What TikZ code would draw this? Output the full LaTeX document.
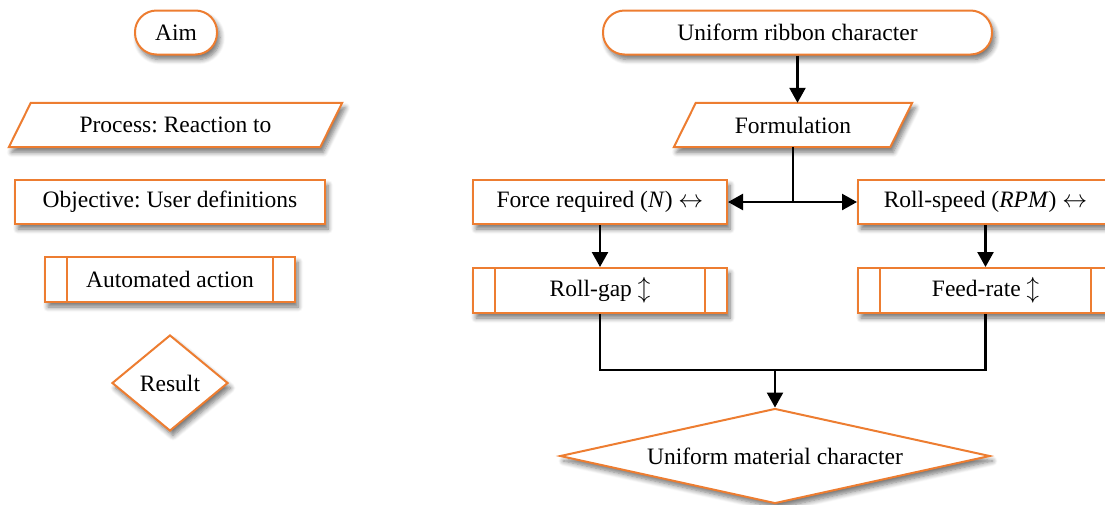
\documentclass[tikz,border=0pt]{standalone}
\usepackage{fontspec}
\setmainfont{Liberation Serif}
\usetikzlibrary{shapes.geometric,arrows.meta,shadows.blur,backgrounds,calc}
\definecolor{og}{HTML}{ED7D31}
\frenchspacing
\begin{document}
\begin{tikzpicture}[x=1pt,y=-1pt,
  font=\fontsize{23.5}{28}\selectfont,
  sh/.style={blur shadow={shadow xshift=3pt,shadow yshift=-5pt,shadow blur steps=7,shadow blur radius=5pt,shadow opacity=55}},
  ol/.style={draw=og,line width=2pt},
  box/.style={ol,fill=white,sh,inner sep=0pt,minimum height=44pt},
  term/.style={box,rounded corners=21.5pt},
  txt/.style={inner sep=0pt,minimum height=44pt},
  dia/.style={diamond,ol,fill=white,sh,inner sep=0pt},
  line/.style={line width=2.4pt,black},
  arr/.style={line,-{Triangle[length=15pt,width=16pt]}}
]
\path[use as bounding box] (0,0) rectangle (1105,504);

% ---- legend ----
\node[term,minimum width=82pt] (aim) at (176,32.5) {Aim};
\node[txt,minimum width=311pt] (proc) at (175.5,125) {Process: Reaction to};
\node[box,minimum width=310pt] (obj) at (170,202) {Objective: User definitions};
\node[box,minimum width=250pt,minimum height=45pt] (auto) at (170,279.5) {Automated action};
\node[dia,minimum width=116pt,minimum height=96pt] (res) at (170,383) {Result};

% ---- main flow ----
\node[term,minimum width=389pt] (rib) at (797.5,32.5) {Uniform ribbon character};
\node[txt,minimum width=216pt] (form) at (793,125) {Formulation};
\node[box,minimum width=254pt] (force) at (600,202) {Force required (\textit{N}) $\leftrightarrow$};
\node[box,minimum width=255pt] (speed) at (985.5,202) {Roll-speed (\textit{RPM}) $\leftrightarrow$};
\node[box,minimum width=254pt,minimum height=45pt] (gap) at (600,290.5) {Roll-gap $\updownarrow$};
\node[box,minimum width=255pt,minimum height=45pt] (feed) at (985.5,290.5) {Feed-rate $\updownarrow$};
\node[dia,minimum width=430pt,minimum height=95pt,aspect=4.5] (uni) at (775,456) {Uniform material character};

% parallelograms and predefined-process bars
\begin{scope}[on background layer]
  \draw[ol,fill=white,sh] ($(proc.north west)+(11,0)$) -- ($(proc.north east)+(11,0)$)
     -- ($(proc.south east)+(-11,0)$) -- ($(proc.south west)+(-11,0)$) -- cycle;
  \draw[ol,fill=white,sh] ($(form.north west)+(11,0)$) -- ($(form.north east)+(11,0)$)
     -- ($(form.south east)+(-11,0)$) -- ($(form.south west)+(-11,0)$) -- cycle;
\end{scope}
\foreach \n in {auto,gap,feed}{
  \draw[ol] ($(\n.north west)+(23,0)$) -- ($(\n.south west)+(23,0)$);
  \draw[ol] ($(\n.north east)+(-23,0)$) -- ($(\n.south east)+(-23,0)$);
}

% connectors
\draw[arr] (rib.south) -- (rib.south |- form.north);
\draw[arr] (form.south) |- (force.east);
\draw[arr] (form.south) |- (speed.west);
\draw[arr] (force) -- (gap);
\draw[arr] (speed) -- (feed);
\coordinate (j) at (uni.north |- 0,370);
\draw[line] (gap.south) |- (j) -| (feed.south);
\draw[arr] (j) -- (uni.north);
\end{tikzpicture}
\end{document}
